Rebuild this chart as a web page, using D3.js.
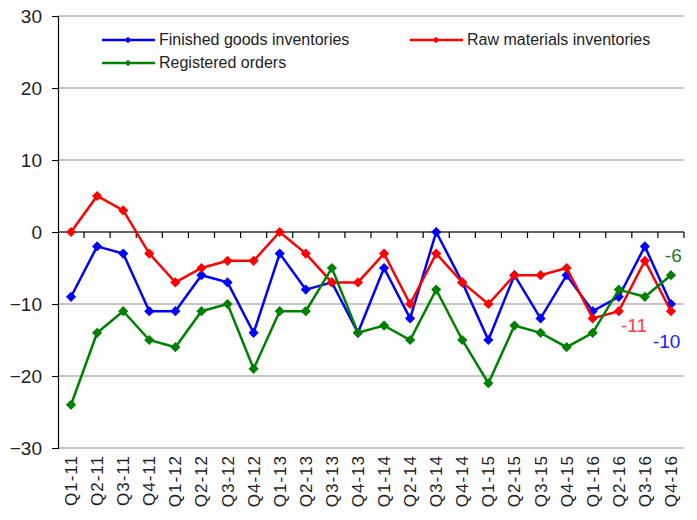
<html>
<head>
<meta charset="utf-8">
<style>
  body { margin: 0; background: #fff; }
  text { font-family: "Liberation Sans", Arial, sans-serif; }
</style>
</head>
<body>
<script src="https://cdn.jsdelivr.net/npm/d3@7/dist/d3.min.js"></script>
<script>
var quarters = ["Q1-11","Q2-11","Q3-11","Q4-11","Q1-12","Q2-12","Q3-12","Q4-12",
  "Q1-13","Q2-13","Q3-13","Q4-13","Q1-14","Q2-14","Q3-14","Q4-14",
  "Q1-15","Q2-15","Q3-15","Q4-15","Q1-16","Q2-16","Q3-16","Q4-16"];
var finishedGoods = [-9,-2,-3,-11,-11,-6,-7,-14,-3,-8,-7,-14,-5,-12,0,-7,-15,-6,-12,-6,-11,-9,-2,-10];
var rawMaterials = [0,5,3,-3,-7,-5,-4,-4,0,-3,-7,-7,-3,-10,-3,-7,-10,-6,-6,-5,-12,-11,-4,-11];
var orders = [-24,-14,-11,-15,-16,-11,-10,-19,-11,-11,-5,-14,-13,-15,-8,-15,-21,-13,-14,-16,-14,-8,-9,-6];
var yTicks = [-30,-20,-10,0,10,20,30];

var width = 697, height = 520;
var pLeft = 58, pRight = 684, pTop = 16, pBottom = 448;

var svg = d3.select("body").append("svg")
  .attr("width", width)
  .attr("height", height);

var x = d3.scaleBand().domain(quarters).range([pLeft, pRight]);
var y = d3.scaleLinear().domain([-30, 30]).range([pBottom, pTop]);

// gridlines
svg.append("g").selectAll("line")
  .data(yTicks)
  .enter().append("line")
  .attr("x1", pLeft).attr("x2", pRight)
  .attr("y1", function(d){ return y(d); })
  .attr("y2", function(d){ return y(d); })
  .attr("stroke", "#b3b3b3")
  .attr("stroke-width", 1.5);

// y axis
var yAxis = svg.append("g")
  .attr("transform", "translate(" + pLeft + ",0)")
  .call(d3.axisLeft(y).tickValues(yTicks).tickSize(6).tickPadding(10));
yAxis.select(".domain").attr("stroke", "#000").attr("stroke-width", 1.2);
yAxis.selectAll(".tick line").attr("stroke", "#000");
yAxis.selectAll("text").style("font-size", "19px").attr("fill", "#222")
  .style("font-family", "'Liberation Sans', Arial, sans-serif");

// x axis line at zero, ticks between categories
svg.append("line")
  .attr("x1", pLeft).attr("x2", pRight)
  .attr("y1", y(0)).attr("y2", y(0))
  .attr("stroke", "#000").attr("stroke-width", 1.2);
svg.append("g").selectAll("line")
  .data(quarters)
  .enter().append("line")
  .attr("x1", function(d){ return x(d) + x.bandwidth(); })
  .attr("x2", function(d){ return x(d) + x.bandwidth(); })
  .attr("y1", y(0)).attr("y2", y(0) + 6)
  .attr("stroke", "#000").attr("stroke-width", 1.2);

// category labels at the bottom
svg.append("g").selectAll("text")
  .data(quarters)
  .enter().append("text")
  .attr("transform", function(d){
    return "translate(" + (x(d) + x.bandwidth() / 2 + 6) + "," + (pBottom + 7) + ") rotate(-90)";
  })
  .attr("text-anchor", "end")
  .style("font-size", "17px")
  .style("letter-spacing", "1px")
  .attr("fill", "#222")
  .text(function(d){ return d; });

var series = [
  { name: "Finished goods inventories", values: finishedGoods, color: "#0000FF" },
  { name: "Raw materials inventories", values: rawMaterials, color: "#FF0000" },
  { name: "Registered orders", values: orders, color: "#008000" }
];

var line = d3.line()
  .x(function(d, i){ return x(quarters[i]) + x.bandwidth() / 2; })
  .y(function(d){ return y(d); });

// square turned 45 degrees
var marker = d3.symbol().type(d3.symbolSquare).size(52);
var smallMarker = d3.symbol().type(d3.symbolSquare).size(22);

series.forEach(function(s){
  svg.append("path")
    .datum(s.values)
    .attr("fill", "none")
    .attr("stroke", s.color)
    .attr("stroke-width", 2.5)
    .attr("d", line);
  svg.append("g").selectAll("path")
    .data(s.values)
    .enter().append("path")
    .attr("d", marker)
    .attr("fill", s.color)
    .attr("transform", function(d, i){
      return "translate(" + (x(quarters[i]) + x.bandwidth() / 2) + "," + y(d) + ") rotate(45)";
    });
});

// end labels
var last = quarters.length - 1;
var lastX = x(quarters[last]) + x.bandwidth() / 2;
var endLabels = [
  { v: orders[last], color: "#237a23", dx: -6, dy: -13 },
  { v: rawMaterials[last], color: "#FF4040", dx: -50, dy: 21 },
  { v: finishedGoods[last], color: "#2020FF", dx: -18, dy: 44 }
];
svg.append("g").selectAll("text")
  .data(endLabels)
  .enter().append("text")
  .attr("x", function(d){ return lastX + d.dx; })
  .attr("y", function(d){ return y(d.v) + d.dy; })
  .attr("fill", function(d){ return d.color; })
  .style("font-size", "19px")
  .text(function(d){ return d.v; });

// legend
var legendPos = [[102, 40], [410, 40], [102, 63]];
var legend = svg.append("g").selectAll("g")
  .data(series)
  .enter().append("g")
  .attr("transform", function(d, i){ return "translate(" + legendPos[i][0] + "," + legendPos[i][1] + ")"; });
legend.append("line")
  .attr("x1", 0).attr("x2", 53)
  .attr("stroke", function(d){ return d.color; })
  .attr("stroke-width", 2.5);
legend.append("path")
  .attr("d", smallMarker)
  .attr("transform", "translate(26,0) rotate(45)")
  .attr("fill", function(d){ return d.color; });
legend.append("text")
  .attr("x", 57).attr("y", 5)
  .style("font-size", "16px")
  .attr("fill", "#222")
  .text(function(d){ return d.name; });
</script>
</body>
</html>
